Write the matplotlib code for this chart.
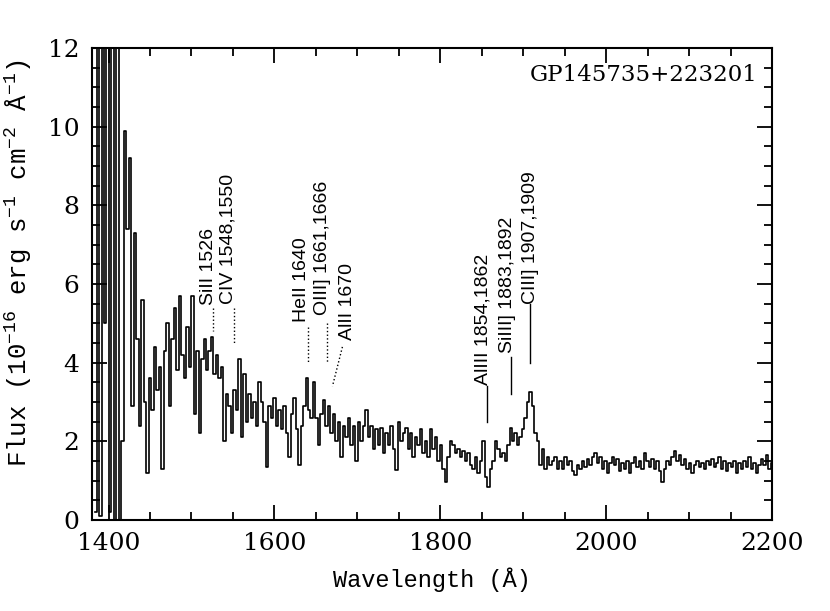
import matplotlib
matplotlib.use("Agg")
import matplotlib.pyplot as plt
from matplotlib.ticker import MultipleLocator
import numpy as np

# spectrum, one value every 3 A starting at 1384 A
lam_start = 1384
lam_step = 3
flux = [
    0.2, 14, 0.1, 14, 5.0, 14, 0.2, 14, -0.5, 13,            # 1384
    -0.5, 2.0, 9.9, 7.4, 9.2, 2.9, 7.3, 4.6, 2.4, 5.6,       # 1414
    3.0, 1.2, 3.6, 2.8, 4.4, 3.3, 3.9, 1.3, 4.3, 5.0,        # 1444
    2.9, 4.6, 5.4, 3.8, 5.7, 4.2, 3.6, 4.9, 3.9, 5.7,        # 1474
    2.7, 4.3, 2.2, 4.1, 4.6, 3.8, 4.3, 4.65, 3.7, 4.2,       # 1504
    3.6, 3.9, 2.0, 3.2, 2.9, 2.2, 3.3, 2.8, 4.1, 2.1,        # 1534
    3.7, 2.5, 3.2, 2.6, 3.0, 2.4, 3.5, 3.0, 2.5, 1.35,       # 1564
    2.9, 2.6, 3.1, 2.4, 2.8, 2.3, 2.9, 2.2, 1.6, 2.7,        # 1594
    3.1, 2.3, 1.4, 2.4, 2.9, 3.6, 2.8, 2.6, 3.5, 2.6,        # 1624
    1.9, 2.7, 3.05, 2.4, 2.9, 2.2, 2.7, 2.0, 2.5, 1.6,       # 1654
    2.4, 2.1, 2.6, 1.9, 2.4, 1.5, 2.5, 2.0, 2.4, 2.8,        # 1684
    2.1, 2.4, 1.8, 2.3, 1.9, 2.35, 1.7, 2.2, 1.9, 2.4,       # 1714
    1.8, 1.27, 2.5, 2.0, 2.2, 2.35, 1.8, 2.2, 1.6, 2.1,      # 1744
    1.9, 2.3, 1.7, 2.0, 1.6, 2.3, 1.8, 2.1, 1.5, 1.9,        # 1774
    1.3, 0.97, 1.6, 2.0, 1.9, 1.7, 1.8, 1.6, 1.75, 1.5,      # 1804
    1.7, 1.4, 1.3, 1.6, 1.2, 1.5, 2.0, 1.1, 0.85, 1.3,       # 1834
    1.5, 2.0, 1.8, 1.6, 1.7, 1.5, 1.9, 2.35, 2.0, 2.2,       # 1864
    1.9, 2.1, 2.3, 2.6, 3.0, 3.25, 2.9, 2.2, 2.0, 1.4,       # 1894
    1.8, 1.3, 1.6, 1.4, 1.5, 1.6, 1.3, 1.5, 1.3, 1.6,        # 1924
    1.4, 1.5, 1.25, 1.15, 1.4, 1.3, 1.5, 1.35, 1.55, 1.4,    # 1954
    1.6, 1.7, 1.45, 1.6, 1.3, 1.5, 1.2, 1.45, 1.6, 1.4,      # 1984
    1.55, 1.25, 1.45, 1.3, 1.5, 1.2, 1.45, 1.6, 1.35, 1.5,   # 2014
    1.3, 1.7, 1.5, 1.35, 1.55, 1.3, 1.5, 1.25, 0.97, 1.3,    # 2044
    1.5, 1.4, 1.6, 1.75, 1.5, 1.65, 1.4, 1.55, 1.3, 1.45,    # 2074
    1.2, 1.4, 1.5, 1.35, 1.45, 1.3, 1.5, 1.4, 1.55, 1.35,    # 2104
    1.45, 1.6, 1.3, 1.5, 1.25, 1.45, 1.35, 1.5, 1.2, 1.45,   # 2134
    1.3, 1.5, 1.35, 1.6, 1.3, 1.45, 1.2, 1.4, 1.55, 1.4,     # 2164
    1.65, 1.3, 1.45,                                         # 2194
]
wave = lam_start + lam_step * np.arange(len(flux))

# line identifications: label, text x, text bottom y, marker line (x0,y0)->(x1,y1), style
line_labels = ["SiII 1526", "CIV 1548,1550", "HeII 1640", "OIII] 1661,1666",
               "AlII 1670", "AlIII 1854,1862", "SiIII] 1883,1892", "CIII] 1907,1909"]
label_x = [1520, 1544.5, 1632.5, 1658, 1688, 1851, 1881, 1908.5]
label_y = [5.47, 5.5, 5.03, 5.2, 4.58, 3.43, 4.25, 5.5]
mark_x0 = [1526, 1551, 1640, 1663, 1682, 1856, 1885.5, 1908]
mark_x1 = [1526, 1551, 1640, 1663, 1670, 1856, 1885.5, 1908]
mark_y0 = [5.4, 5.4, 4.9, 5.0, 4.4, 3.4, 4.15, 5.5]
mark_y1 = [4.8, 4.5, 4.0, 4.0, 3.4, 2.5, 3.2, 4.0]
mark_style = [":", ":", ":", ":", ":", "-", "-", "-"]

plt.rcParams["mathtext.fontset"] = "custom"
plt.rcParams["mathtext.rm"] = "Liberation Mono"
plt.rcParams["mathtext.it"] = "Liberation Mono"

fig = plt.figure(figsize=(8.3, 6.11), dpi=100)
ax = fig.add_axes([0.1108, 0.149, 0.8193, 0.7725])

ax.plot(wave, flux, drawstyle="steps-mid", color="black", lw=1.2)

for lab, tx, ty, x0, x1, y0, y1, ls in zip(line_labels, label_x, label_y,
                                           mark_x0, mark_x1, mark_y0, mark_y1, mark_style):
    ax.text(tx, ty, lab, rotation=90, ha="center", va="bottom",
            fontsize=14, family="Liberation Sans")
    ax.plot([x0, x1], [y0, y1], ls=ls, color="black", lw=1.0)

ax.text(0.978, 0.943, "GP145735+223201", transform=ax.transAxes,
        ha="right", va="center", fontsize=16.5, family="DejaVu Serif")

ax.set_xlim(1380, 2200)
ax.set_ylim(0, 12)
ax.xaxis.set_major_locator(MultipleLocator(200))
ax.xaxis.set_minor_locator(MultipleLocator(50))
ax.yaxis.set_major_locator(MultipleLocator(2))
ax.yaxis.set_minor_locator(MultipleLocator(0.5))
ax.tick_params(which="both", direction="in", top=True, right=True, width=1.3)
ax.tick_params(which="major", length=11, labelsize=18, pad=9)
ax.tick_params(which="minor", length=6)
for lbl in ax.get_xticklabels() + ax.get_yticklabels():
    lbl.set_family("DejaVu Serif")
for sp in ax.spines.values():
    sp.set_linewidth(1.5)

ax.set_xlabel("Wavelength (Å)", fontsize=17, family="Liberation Mono")
ax.set_ylabel(r"Flux (10$^{-16}$ erg s$^{-1}$ cm$^{-2}$ Å$^{-1}$)",
              fontsize=18.5, family="Liberation Mono")
ax.xaxis.set_label_coords(0.5, -0.1)
ax.yaxis.set_label_coords(-0.085, 0.545)

fig.savefig("out.png", dpi=100)
